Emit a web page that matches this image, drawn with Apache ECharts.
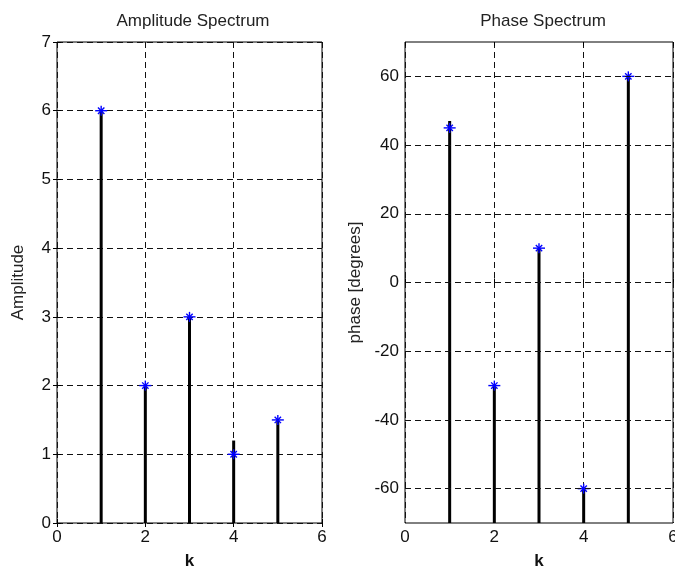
<!DOCTYPE html>
<html>
<head>
<meta charset="utf-8">
<script src="https://cdn.jsdelivr.net/npm/echarts@6/dist/echarts.min.js"></script>
<style>html,body{margin:0;padding:0;background:#fff}#c{width:675px;height:569px}</style>
</head>
<body>
<div id="c"></div>
<script>
const kValues = [1, 2, 3, 4, 5];
const amplitude = [6, 2, 3, 1, 1.5];
const amplitudeStem = [6, 2, 3, 1.2, 1.5];
const phase = [45, -30, 10, -60, 60];
const phaseStem = [47, -30, 10, -60, 60];
const xTicks = [0, 2, 4, 6];
const ampTicks = [0, 1, 2, 3, 4, 5, 6, 7];
const phaseTicks = [-60, -40, -20, 0, 20, 40, 60];
const titles = ['Amplitude Spectrum', 'Phase Spectrum'];
const yNames = ['Amplitude', 'phase [degrees]'];
const xName = 'k';

const FONT = 'Liberation Sans, Arial, sans-serif';
const FS = 17;
const gridLine = { show: true, lineStyle: { color: '#111', type: [6, 4], width: 1 } };

function pairs(xs, ys) { return xs.map((x, i) => [x, ys[i]]); }

function stemRenderer(base) {
  return function (params, api) {
    const x = api.value(0), y = api.value(1);
    const p0 = api.coord([x, base]);
    const p1 = api.coord([x, y]);
    return { type: 'line', shape: { x1: p0[0], y1: p0[1], x2: p1[0], y2: p1[1] },
      style: { stroke: '#000', lineWidth: 3 } };
  };
}
function starRenderer(params, api) {
  const p = api.coord([api.value(0), api.value(1)]);
  const s = { stroke: '#0000ff', lineWidth: 1.4 };
  const h = 6, v = 5, d = 3.2;
  return { type: 'group', children: [
    { type: 'line', shape: { x1: p[0] - h, y1: p[1], x2: p[0] + h, y2: p[1] }, style: s },
    { type: 'line', shape: { x1: p[0], y1: p[1] - v, x2: p[0], y2: p[1] + v }, style: s },
    { type: 'line', shape: { x1: p[0] - d, y1: p[1] - d, x2: p[0] + d, y2: p[1] + d }, style: s },
    { type: 'line', shape: { x1: p[0] - d, y1: p[1] + d, x2: p[0] + d, y2: p[1] - d }, style: s }
  ] };
}

const axisLabelStyle = { color: '#111', fontSize: FS, fontFamily: FONT };
function xAxes(gi) {
  return [
    { type: 'value', gridIndex: gi, min: xTicks[0], max: xTicks[xTicks.length - 1], interval: 2,
      name: xName, nameLocation: 'middle', nameGap: 30,
      nameTextStyle: { color: '#111', fontSize: FS, fontWeight: 'bold', fontFamily: FONT },
      axisLine: { show: false }, axisTick: { show: true, inside: true, length: 4, lineStyle: { color: '#000' } },
      axisLabel: Object.assign({ margin: 6 }, axisLabelStyle), splitLine: gridLine },
    { type: 'value', gridIndex: gi, position: 'top', min: xTicks[0], max: xTicks[xTicks.length - 1], interval: 2,
      axisLine: { show: false }, axisTick: { show: true, inside: true, length: 4, lineStyle: { color: '#000' } },
      axisLabel: { show: false }, splitLine: { show: false } }
  ];
}

const option = {
  animation: false,
  backgroundColor: '#fff',
  title: [
    { text: titles[0], left: 188, top: 8, textAlign: 'center',
      textStyle: { color: '#222', fontSize: FS, fontWeight: 'normal', fontFamily: FONT } },
    { text: titles[1], left: 538, top: 8, textAlign: 'center',
      textStyle: { color: '#222', fontSize: FS, fontWeight: 'normal', fontFamily: FONT } }
  ],
  grid: [
    { left: 57, right: 353, top: 42, bottom: 46, containLabel: false, outerBoundsMode: 'none',
      show: true, borderColor: '#000', borderWidth: 1, backgroundColor: 'transparent' },
    { left: 405, right: 2, top: 42, bottom: 46, containLabel: false, outerBoundsMode: 'none',
      show: true, borderColor: '#000', borderWidth: 1, backgroundColor: 'transparent' }
  ],
  xAxis: xAxes(0).concat(xAxes(1)),
  yAxis: [
    { type: 'value', gridIndex: 0, min: ampTicks[0], max: ampTicks[ampTicks.length - 1], interval: 1,
      name: yNames[0], nameLocation: 'middle', nameGap: 30,
      nameTextStyle: { color: '#222', fontSize: FS, fontFamily: FONT },
      axisLine: { show: false }, axisTick: { show: true, inside: true, length: 4, lineStyle: { color: '#000' } },
      axisLabel: Object.assign({ margin: 6 }, axisLabelStyle), splitLine: gridLine },
    { type: 'value', gridIndex: 0, position: 'right', min: ampTicks[0], max: ampTicks[ampTicks.length - 1], interval: 1,
      axisLine: { show: false }, axisTick: { show: true, inside: true, length: 4, lineStyle: { color: '#000' } },
      axisLabel: { show: false }, splitLine: { show: false } },
    { type: 'value', gridIndex: 1, min: -70, max: 70, interval: 10,
      name: yNames[1], nameLocation: 'middle', nameGap: 41,
      nameTextStyle: { color: '#222', fontSize: FS, fontFamily: FONT },
      axisLine: { show: false }, axisTick: { show: false },
      axisLabel: Object.assign({ margin: 6,
        formatter: v => (phaseTicks.indexOf(v) >= 0 ? String(v) : '') }, axisLabelStyle),
      splitLine: { show: false } }
  ],
  series: [
    { type: 'custom', xAxisIndex: 0, yAxisIndex: 0, renderItem: stemRenderer(0), data: pairs(kValues, amplitudeStem), z: 3 },
    { type: 'custom', xAxisIndex: 0, yAxisIndex: 0, renderItem: starRenderer, data: pairs(kValues, amplitude), z: 4 },
    { type: 'line', xAxisIndex: 2, yAxisIndex: 2, data: [], silent: true,
      markLine: { silent: true, symbol: 'none', label: { show: false },
        lineStyle: { color: '#111', type: [6, 4], width: 1 },
        data: phaseTicks.map(v => ({ yAxis: v })) } },
    { type: 'custom', xAxisIndex: 2, yAxisIndex: 2, renderItem: stemRenderer(-70), data: pairs(kValues, phaseStem), z: 3 },
    { type: 'custom', xAxisIndex: 2, yAxisIndex: 2, renderItem: starRenderer, data: pairs(kValues, phase), z: 4 }
  ]
};
echarts.init(document.getElementById('c'), null, { renderer: 'canvas' }).setOption(option);
</script>
</body>
</html>
